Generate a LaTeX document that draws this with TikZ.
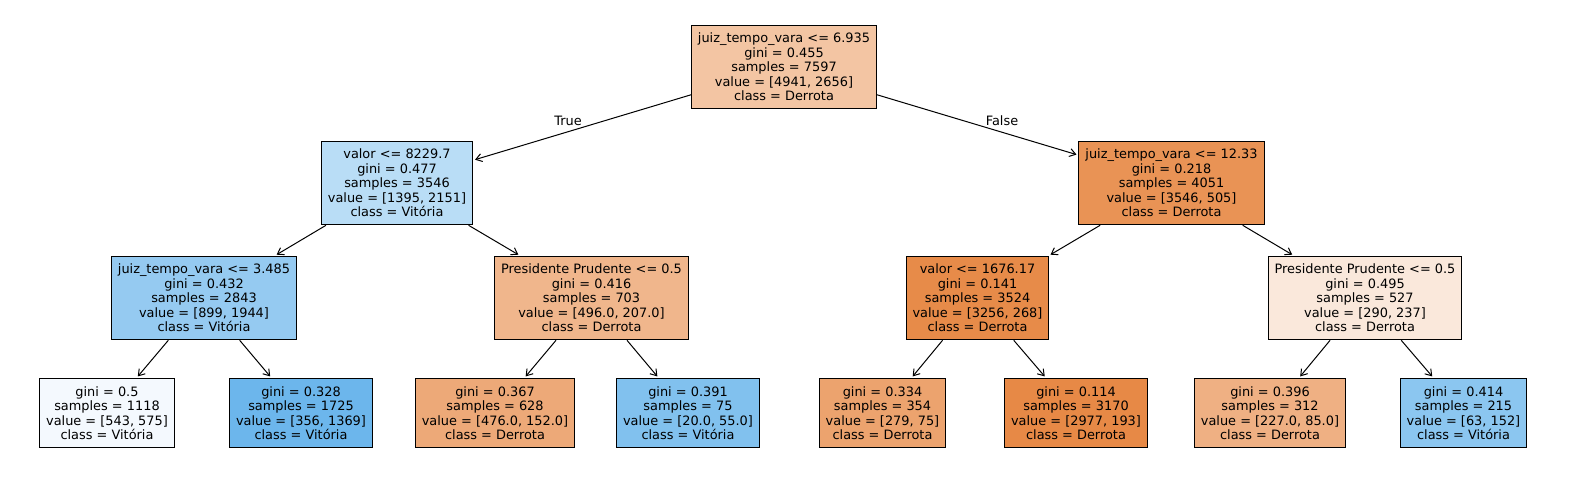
\documentclass[tikz,border=0pt]{standalone}
\usepackage{fontspec}
\setmainfont{DejaVu Sans}
\usetikzlibrary{arrows.meta}
\definecolor{c0}{RGB}{243,197,163}
\definecolor{c1}{RGB}{185,221,246}
\definecolor{c2}{RGB}{233,147,85}
\definecolor{c3}{RGB}{149,202,241}
\definecolor{c4}{RGB}{240,182,140}
\definecolor{c5}{RGB}{231,139,73}
\definecolor{c6}{RGB}{250,232,219}
\definecolor{c7}{RGB}{244,249,254}
\definecolor{c8}{RGB}{108,182,236}
\definecolor{c9}{RGB}{237,169,120}
\definecolor{c10}{RGB}{129,193,238}
\definecolor{c11}{RGB}{236,163,110}
\definecolor{c12}{RGB}{231,137,70}
\definecolor{c13}{RGB}{239,176,131}
\definecolor{c14}{RGB}{139,198,240}
\tikzset{
  tnode/.style={draw=black, line width=1pt, align=center, inner xsep=6.5pt, inner ysep=7.8pt,
    font=\fontsize{12.9}{14.5}\selectfont},
  edge/.style={line width=1pt, -{Straight Barb[length=6pt,width=8pt]}, shorten >=2pt},
  elabel/.style={font=\fontsize{12.9}{14.5}\selectfont}
}
\begin{document}
\begin{tikzpicture}[x=1pt,y=-1pt]
\useasboundingbox (0,0) rectangle (1570,482);
\node[tnode, fill=c0] (root) at (784,67) {juiz\_tempo\_vara <= 6.935\\gini = 0.455\\samples = 7597\\value = [4941, 2656]\\class = Derrota};
\node[tnode, fill=c1] (l) at (397,183) {valor <= 8229.7\\gini = 0.477\\samples = 3546\\value = [1395, 2151]\\class = Vitória};
\node[tnode, fill=c2] (r) at (1171.5,183) {juiz\_tempo\_vara <= 12.33\\gini = 0.218\\samples = 4051\\value = [3546, 505]\\class = Derrota};
\node[tnode, fill=c3] (a) at (204,298) {juiz\_tempo\_vara <= 3.485\\gini = 0.432\\samples = 2843\\value = [899, 1944]\\class = Vitória};
\node[tnode, fill=c4] (b) at (591.5,298) {Presidente Prudente <= 0.5\\gini = 0.416\\samples = 703\\value = [496.0, 207.0]\\class = Derrota};
\node[tnode, fill=c5] (c) at (977.5,298) {valor <= 1676.17\\gini = 0.141\\samples = 3524\\value = [3256, 268]\\class = Derrota};
\node[tnode, fill=c6] (d) at (1365,298) {Presidente Prudente <= 0.5\\gini = 0.495\\samples = 527\\value = [290, 237]\\class = Derrota};
\node[tnode, fill=c7] (f1) at (107,413) {gini = 0.5\\samples = 1118\\value = [543, 575]\\class = Vitória};
\node[tnode, fill=c8] (f2) at (301,413) {gini = 0.328\\samples = 1725\\value = [356, 1369]\\class = Vitória};
\node[tnode, fill=c9] (f3) at (495,413) {gini = 0.367\\samples = 628\\value = [476.0, 152.0]\\class = Derrota};
\node[tnode, fill=c10] (f4) at (688,413) {gini = 0.391\\samples = 75\\value = [20.0, 55.0]\\class = Vitória};
\node[tnode, fill=c11] (f5) at (882.5,413) {gini = 0.334\\samples = 354\\value = [279, 75]\\class = Derrota};
\node[tnode, fill=c12] (f6) at (1076,413) {gini = 0.114\\samples = 3170\\value = [2977, 193]\\class = Derrota};
\node[tnode, fill=c13] (f7) at (1270,413) {gini = 0.396\\samples = 312\\value = [227.0, 85.0]\\class = Derrota};
\node[tnode, fill=c14] (f8) at (1463.5,413) {gini = 0.414\\samples = 215\\value = [63, 152]\\class = Vitória};
\draw[edge] (root) -- (l);
\draw[edge] (root) -- (r);
\draw[edge] (l) -- (a);
\draw[edge] (l) -- (b);
\draw[edge] (r) -- (c);
\draw[edge] (r) -- (d);
\draw[edge] (a) -- (f1);
\draw[edge] (a) -- (f2);
\draw[edge] (b) -- (f3);
\draw[edge] (b) -- (f4);
\draw[edge] (c) -- (f5);
\draw[edge] (c) -- (f6);
\draw[edge] (d) -- (f7);
\draw[edge] (d) -- (f8);
\node[elabel] (tl) at (568,121) {True};
\node[elabel] (fl) at (1002,121) {False};
\end{tikzpicture}
\end{document}
